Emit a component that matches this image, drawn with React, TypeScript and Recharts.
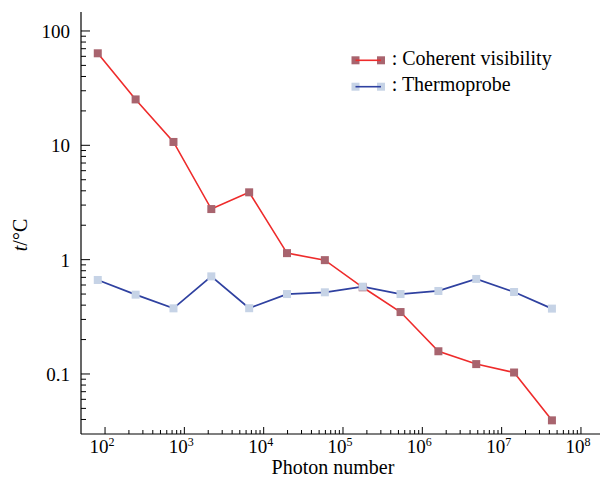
import React from 'react';
import { LineChart, Line, XAxis, YAxis, Legend, Label } from 'recharts';

const photonNumbers = [81, 243, 729, 2187, 6561, 19683, 59049, 177147, 531441, 1594323, 4782969, 14348907, 43046721];
const coherentVisibility = [63.8, 25.2, 10.7, 2.77, 3.88, 1.14, 0.99, 0.573, 0.348, 0.158, 0.122, 0.103, 0.0393];
const thermoprobe = [0.664, 0.494, 0.375, 0.714, 0.376, 0.5, 0.518, 0.58, 0.5, 0.532, 0.678, 0.521, 0.373];

const seriesNames = [': Coherent visibility', ': Thermoprobe'];

const xMajorExponents = [2, 3, 4, 5, 6, 7, 8];
const yMajorTicks = [0.1, 1, 10, 100];
const yMajorLabels = ['0.1', '1', '10', '100'];
const minorMultipliers = [2, 3, 4, 5, 6, 7, 8, 9];

const X_DOMAIN: [number, number] = [Math.pow(10, 1.697), Math.pow(10, 8.24)];
const Y_DOMAIN: [number, number] = [Math.pow(10, -1.525), Math.pow(10, 2.166)];

const FONT = '"Liberation Serif", "Times New Roman", "DejaVu Serif", serif';
const TXT = { fontFamily: FONT };
const RED_LINE = '#ee2b2b';
const RED_MARK = '#a8646e';
const BLUE_LINE = '#2f41a0';
const BLUE_MARK = '#c6d3e6';

const data = photonNumbers.map((x, i) => ({ x, cv: coherentVisibility[i], tp: thermoprobe[i] }));

const xTicks: number[] = [];
xMajorExponents.forEach((e) => {
  xTicks.push(Math.pow(10, e));
  if (e < 8) minorMultipliers.forEach((m) => xTicks.push(m * Math.pow(10, e)));
});

const yTicks: number[] = [];
[0.01, 0.1, 1, 10].forEach((d) => {
  minorMultipliers.forEach((m) => {
    const v = +(m * d).toPrecision(3);
    if (v >= 0.04) yTicks.push(v);
  });
});
yMajorTicks.forEach((v) => yTicks.push(v));

const isMajor = (v: number) => {
  const l = Math.log10(v);
  return Math.abs(l - Math.round(l)) < 1e-6;
};

const XTick = (props: any) => {
  const { x, y, payload } = props;
  const v = payload.value;
  const major = isMajor(v);
  const exp = Math.round(Math.log10(v));
  return (
    <g>
      <line x1={x} x2={x} y1={y} y2={y - (major ? 7 : 4)} stroke="#000" strokeWidth={1} />
      {major && (
        <text x={x - 3} y={y + 19} textAnchor="middle" style={TXT} fontSize={19} fill="#000">
          10
          <tspan dy={-7} fontSize={12}>{exp}</tspan>
        </text>
      )}
    </g>
  );
};

const YTick = (props: any) => {
  const { x, y, payload } = props;
  const v = payload.value;
  const major = isMajor(v);
  const idx = yMajorTicks.findIndex((m) => Math.abs(m - v) < 1e-9);
  return (
    <g>
      <line x1={x} x2={x + (major ? 9 : 5)} y1={y} y2={y} stroke="#000" strokeWidth={1} />
      {major && (
        <text x={x - 11} y={y + 7} textAnchor="end" style={TXT} fontSize={19} fill="#000">
          {yMajorLabels[idx]}
        </text>
      )}
    </g>
  );
};

const makeSquare = (fill: string) => (props: any) => {
  const { cx, cy, index } = props;
  return <rect key={`sq-${fill}-${index}`} x={cx - 4} y={cy - 4} width={8} height={8} fill={fill} />;
};

const renderYLabel = () => (
  <text transform="translate(27,235) rotate(-90)" textAnchor="middle" style={TXT} fontSize={20} fill="#000">
    <tspan fontStyle="italic">t</tspan>/°C
  </text>
);

const renderXLabel = () => (
  <text x={333} y={474} textAnchor="middle" style={TXT} fontSize={20} fill="#000">
    Photon number
  </text>
);

const legendRows = [
  { name: seriesNames[0], line: RED_LINE, mark: RED_MARK, lineY: 15.3, textY: 20.3 },
  { name: seriesNames[1], line: BLUE_LINE, mark: BLUE_MARK, lineY: 41.7, textY: 46 },
];

const renderLegend = () => (
  <svg width={256} height={55} style={{ display: 'block', overflow: 'visible' }}>
    {legendRows.map((r) => (
      <g key={r.name}>
        <rect x={6.5} y={r.lineY - 4} width={8} height={8} fill={r.mark} />
        <rect x={32} y={r.lineY - 4} width={8} height={8} fill={r.mark} />
        <line x1={10.5} x2={36} y1={r.lineY} y2={r.lineY} stroke={r.line} strokeWidth={1.6} />
        <text x={46.7} y={r.textY} style={TXT} fontSize={20} fill="#000">
          {r.name}
        </text>
      </g>
    ))}
  </svg>
);

export default function App() {
  return (
    <div style={{ position: 'absolute', left: 0, top: 0, background: '#fff', fontFamily: FONT }}>
      <LineChart width={601} height={489} data={data} margin={{ top: 12, right: 1, left: 0, bottom: 0 }}>
        <XAxis
          dataKey="x"
          type="number"
          scale="log"
          domain={X_DOMAIN}
          allowDataOverflow
          ticks={xTicks}
          interval={0}
          tick={<XTick />}
          tickLine={false}
          tickSize={0}
          tickMargin={0}
          height={55}
          axisLine={{ stroke: '#000', strokeWidth: 1.2 }}
        >
          <Label content={renderXLabel} />
        </XAxis>
        <YAxis
          type="number"
          scale="log"
          domain={Y_DOMAIN}
          allowDataOverflow
          ticks={yTicks}
          interval={0}
          tick={<YTick />}
          tickLine={false}
          tickSize={0}
          tickMargin={0}
          width={81}
          axisLine={{ stroke: '#000', strokeWidth: 1.2 }}
        >
          <Label content={renderYLabel} />
        </YAxis>
        <Legend
          content={renderLegend}
          layout="vertical"
          verticalAlign="middle"
          align="center"
          wrapperStyle={{ left: 345, top: 45, width: 256, height: 55 }}
        />
        <Line dataKey="cv" name={seriesNames[0]} stroke="none" dot={makeSquare(RED_MARK)} activeDot={false} isAnimationActive={false} legendType="none" />
        <Line dataKey="tp" name={seriesNames[1]} stroke="none" dot={makeSquare(BLUE_MARK)} activeDot={false} isAnimationActive={false} legendType="none" />
        <Line dataKey="cv" stroke={RED_LINE} strokeWidth={1.6} dot={false} activeDot={false} isAnimationActive={false} legendType="none" />
        <Line dataKey="tp" stroke={BLUE_LINE} strokeWidth={1.8} dot={false} activeDot={false} isAnimationActive={false} legendType="none" />
      </LineChart>
    </div>
  );
}
